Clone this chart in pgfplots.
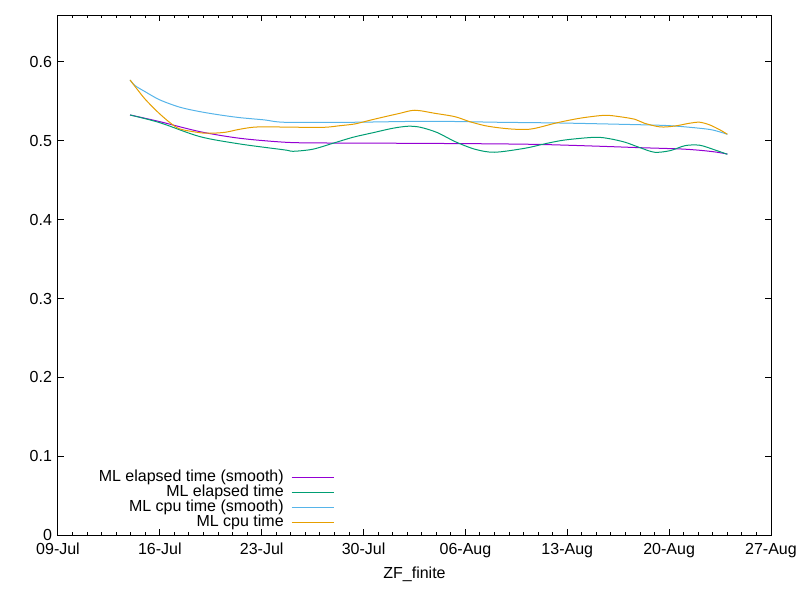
\documentclass[border=0pt]{standalone}
\usepackage{pgfplots}
\pgfplotsset{compat=1.18}
\usepackage{fontspec}
\setmainfont{Liberation Sans}
\definecolor{gpurple}{HTML}{9400D3}
\definecolor{ggreen}{HTML}{009E73}
\definecolor{gblue}{HTML}{56B4E9}
\definecolor{gorange}{HTML}{E69F00}
\begin{document}
\begin{tikzpicture}[x=1pt,y=1pt]
\path[use as bounding box] (-43.5pt,-48.75pt) rectangle (556.5pt,401.25pt);
\begin{axis}[
  at={(0pt,0pt)}, anchor=south west,
  scale only axis, width=534.75pt, height=390pt,
  xmin=0, xmax=49, ymin=0, ymax=0.6596,
  xtick={0,7,14,21,28,35,42,49},
  xticklabels={09-Jul,16-Jul,23-Jul,30-Jul,06-Aug,13-Aug,20-Aug,27-Aug},
  minor x tick num=6,
  ytick={0,0.1,0.2,0.3,0.4,0.5,0.6},
  yticklabels={0,0.1,0.2,0.3,0.4,0.5,0.6},
  tick align=inside,
  major tick length=4.5pt, minor tick length=2.5pt,
  tick style={black, line width=0.75pt},
  axis line style={black, line width=0.75pt},
  font=\fontsize{12}{14}\selectfont,
  /pgf/number format/assume math mode=true,
  xlabel={ZF\_finite},
  xlabel style={yshift=0pt},
  xticklabel style={yshift=-2.5pt},
  yticklabel style={xshift=-1pt},
  legend cell align=right,
  legend plot pos=right,
  legend image code/.code={\draw[#1] (0pt,0pt) -- (32pt,0pt);},
  legend style={draw=none, fill=none, inner sep=0pt, at={(0.3885,0.0096)}, anchor=south east,
    font=\fontsize{12}{14}\selectfont, row sep=0pt, column sep=5.5pt,
    nodes={inner sep=0pt, text height=8.6pt, text depth=2.65pt}},
  every axis plot/.append style={line width=0.75pt},
]
\addplot[gpurple, smooth] coordinates {
(4.95,0.5328) (7.0,0.5243) (9.76,0.5116) (12.5,0.5032) (15.6,0.4982) (18,0.4973)
(23.5,0.4969) (29,0.4963) (33.1,0.4954) (37.25,0.4931) (40,0.4913) (42.75,0.4897)
(44.1,0.4880) (45.15,0.4859) (46.0,0.4833)};
\addlegendentry{ML elapsed time (smooth)}
\addplot[ggreen, smooth] coordinates {
(4.95,0.5328) (7.0,0.5230) (9.76,0.5053) (12.5,0.4960) (15.6,0.4884) (16.15,0.4867)
(17.5,0.4893) (18.9,0.4969) (20.27,0.5045) (21.65,0.5103) (23.0,0.5159) (24.05,0.5185)
(24.9,0.5172) (26.05,0.5106) (27.3,0.4989) (28.66,0.4893) (30.0,0.4855) (32.1,0.4906)
(33.5,0.4964) (34.85,0.5011) (36.9,0.5045) (37.9,0.5027) (38.97,0.4982) (40.0,0.4913)
(41.0,0.4855) (42.06,0.4875) (43.1,0.4939) (44.1,0.4944) (45.15,0.4884) (46.0,0.4829)};
\addlegendentry{ML elapsed time}
\addplot[gblue, smooth] coordinates {
(4.95,0.5772) (5.3,0.5700) (5.98,0.5624) (7.0,0.5519) (8.38,0.5426) (9.76,0.5370)
(11.13,0.5328) (12.5,0.5294) (14.2,0.5265) (15.6,0.5235) (20.07,0.5235) (25.57,0.5248)
(30.4,0.5235) (34.5,0.5226) (38.6,0.5210) (41.7,0.5195) (43.4,0.5172) (44.8,0.5144)
(45.5,0.5112) (46.0,0.5083)};
\addlegendentry{ML cpu time (smooth)}
\addplot[gorange, smooth] coordinates {
(4.95,0.5772) (5.5,0.5640) (5.98,0.5530) (6.5,0.5430) (7.0,0.5340) (7.7,0.5230) (8.38,0.5150) (9.76,0.5103)
(10.45,0.5096) (11.48,0.5108) (12.5,0.5147) (13.75,0.5176) (16.63,0.5172) (18.35,0.5172)
(19.38,0.5192) (20.4,0.5214) (21.44,0.5261) (22.47,0.5306) (23.5,0.5349) (24.53,0.5388)
(25.9,0.5349) (27.28,0.5306) (28.3,0.5243) (29.35,0.5192) (30.4,0.5163) (31.4,0.5147)
(32.4,0.5147) (33.1,0.5172) (34.16,0.5223) (35.2,0.5264) (36.2,0.5296) (37.6,0.5324)
(38.6,0.5306) (39.65,0.5273) (40.3,0.5223) (41.4,0.5176) (42.4,0.5188) (43.4,0.5223)
(44.1,0.5236) (44.8,0.5201) (45.5,0.5138) (46.0,0.5083)};
\addlegendentry{ML cpu time}
\end{axis}
\end{tikzpicture}
\end{document}
